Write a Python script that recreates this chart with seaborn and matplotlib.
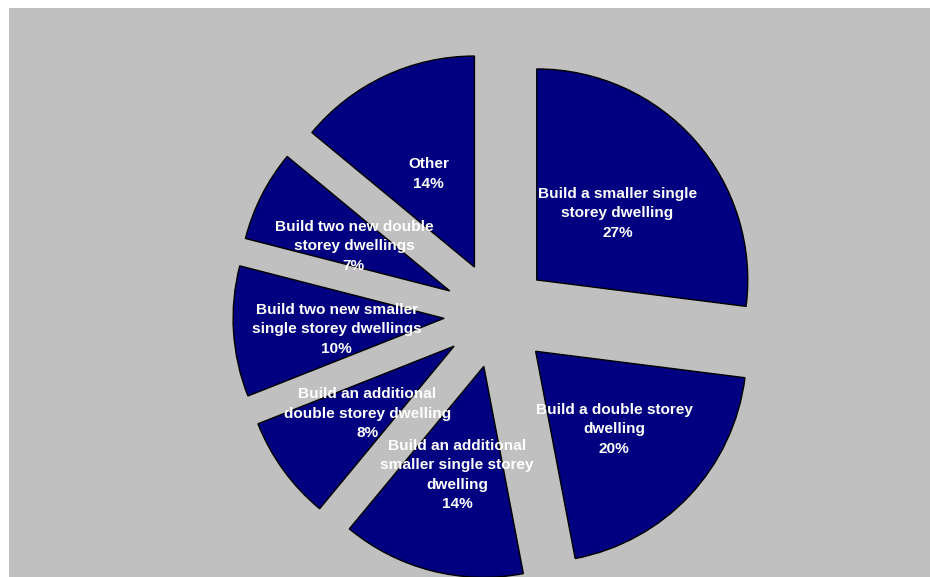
import matplotlib
matplotlib.use("Agg")
import matplotlib.pyplot as plt
import seaborn as sns

# Preferred options for redeveloping a block (share of responses, %)
categories = [
    "Build a smaller single\nstorey dwelling",
    "Build a double storey\ndwelling",
    "Build an additional\nsmaller single storey\ndwelling",
    "Build an additional\ndouble storey dwelling",
    "Build two new smaller\nsingle storey dwellings",
    "Build two new double\nstorey dwellings",
    "Other",
]
shares = [27, 20, 14, 8, 10, 7, 14]

sns.set_style("white")
plt.rcParams["font.family"] = ["Liberation Sans", "DejaVu Sans"]

W, H = 930, 577
fig = plt.figure(figsize=(W / 100, H / 100), dpi=100, facecolor="white")

# grey plot area
bg = fig.add_axes([9 / W, 0, (W - 9) / W, (H - 8) / H])
bg.set_facecolor("#C0C0C0")
bg.set_xticks([])
bg.set_yticks([])
for s in bg.spines.values():
    s.set_visible(False)

# pie drawn in pixel-like data units
ax = fig.add_axes([0, 0, 1, 1])
ax.patch.set_alpha(0)

navy = sns.color_palette(["#000080"])[0]
labels = [f"{c}\n{v}%" for c, v in zip(categories, shares)]
wedges, texts = ax.pie(
    shares,
    labels=labels,
    colors=[navy] * len(shares),
    startangle=90,
    counterclock=False,
    center=(497, H - 315),
    radius=211,
    explode=[53] * len(shares),
    labeldistance=0.51,
    wedgeprops=dict(edgecolor="black", linewidth=1.0),
    textprops=dict(color="white", fontsize=11.1, fontweight="bold"),
    frame=True,
)
ax.set_xlim(0, W)
ax.set_ylim(0, H)
ax.set_aspect("equal")
ax.axis("off")
for t in texts:
    t.set_horizontalalignment("center")
    t.set_verticalalignment("center_baseline")
    t.set_multialignment("center")
    t.set_linespacing(1.5)

fig.savefig("out.png", dpi=100, facecolor="white")
